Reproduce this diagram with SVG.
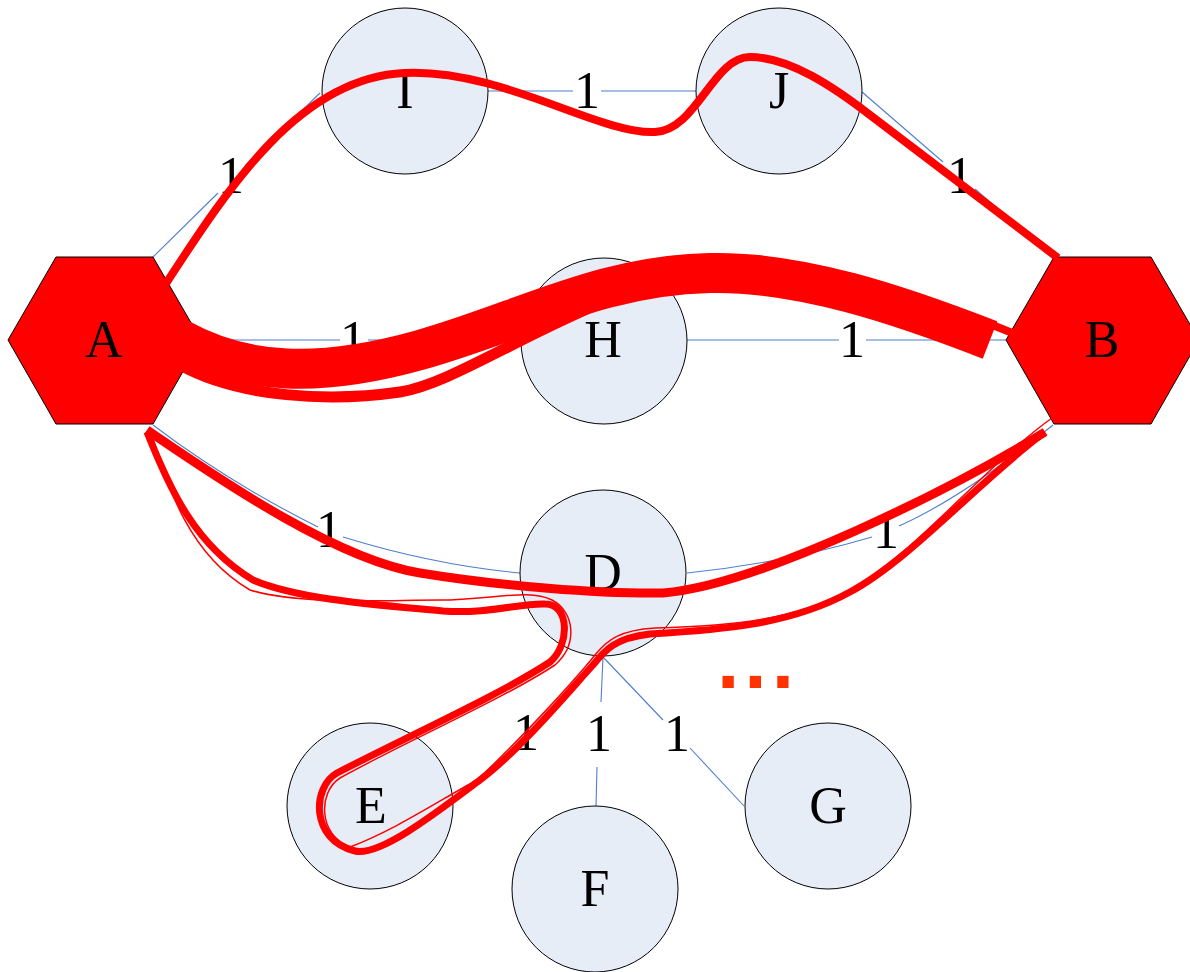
<svg xmlns="http://www.w3.org/2000/svg" width="1190" height="972" viewBox="0 0 1190 972">
<style>
.edge{fill:none;stroke:#4F7FCB;stroke-width:1.1}
.node{fill:#E6EDF7;stroke:#000;stroke-width:1}
.hex{fill:#FF0000;stroke:#000;stroke-width:1}
.lbl{font-family:"Liberation Serif","Times New Roman",serif;font-size:52px;text-anchor:middle;fill:#000}
.flow{fill:none;stroke:#FF0000;stroke-linecap:butt;stroke-linejoin:round}
.dots{font-family:"DejaVu Sans",sans-serif;font-weight:bold;font-size:64px;letter-spacing:3px;fill:#FF3300}
</style>
<rect width="1190" height="972" fill="#FFFFFF"/>
<g id="connectors">
  <path class="edge" d="M153,257 L218,193 M245,166 L320,93"/>
  <path class="edge" d="M488,91 L573,91 M601,91 L696,91"/>
  <path class="edge" d="M862,92 L943,162 M975,189 L1054,257"/>
  <path class="edge" d="M200,340 L340,340 M368,340 L521,340"/>
  <path class="edge" d="M687,340 L839,340 M866,340 L1006,340"/>
  <path class="edge" d="M153,425 Q228,482 318,527 M343,537 Q434,565 520,573"/>
  <path class="edge" d="M687,573 Q784,563 872,537 M899,526 Q962,498 1053,425"/>
  <path class="edge" d="M603,657 L539,722 M512,750 L494,768"/>
  <path class="edge" d="M603,657 L601,702 M597,767 L596,806"/>
  <path class="edge" d="M603,657 L663,720 M690,748 L744,806"/>
  <g id="edge-labels">
    <text class="lbl" x="231" y="193">1</text>
    <text class="lbl" x="587" y="108">1</text>
    <text class="lbl" x="960" y="193">1</text>
    <text class="lbl" x="353" y="357">1</text>
    <text class="lbl" x="852" y="357">1</text>
    <text class="lbl" x="329" y="547">1</text>
    <text class="lbl" x="886" y="548">1</text>
    <text class="lbl" x="526" y="750">1</text>
    <text class="lbl" x="599" y="751">1</text>
    <text class="lbl" x="677" y="751">1</text>
  </g>
</g>
<g id="node-A"><polygon class="hex" points="8,340 56,257 153,257 201,340 153,424 56,424"/><text class="lbl" x="104" y="357">A</text></g>
<g id="node-B"><polygon class="hex" points="1006,340 1054,257 1151,257 1199,340 1151,424 1054,424"/><text class="lbl" x="1102" y="357">B</text></g>
<g id="node-I"><circle class="node" cx="405" cy="91" r="83"/><text class="lbl" x="405" y="108">I</text></g>
<g id="node-J"><circle class="node" cx="779" cy="91" r="83"/><text class="lbl" x="779" y="108">J</text></g>
<g id="node-H"><circle class="node" cx="604" cy="341" r="83"/><text class="lbl" x="603" y="357">H</text></g>
<g id="node-D"><circle class="node" cx="603" cy="573" r="83"/><text class="lbl" x="603" y="590">D</text></g>
<g id="node-E"><circle class="node" cx="370" cy="806" r="83"/><text class="lbl" x="371" y="823">E</text></g>
<g id="node-F"><circle class="node" cx="595" cy="889" r="83"/><text class="lbl" x="595" y="906">F</text></g>
<g id="node-G"><circle class="node" cx="828" cy="806" r="83"/><text class="lbl" x="828" y="823">G</text></g>
<g id="flows">
  <path class="flow" stroke-width="8" d="M165,285 C230,185 300,78 404,73 C500,68 600,135 655,132 C697,130 713,57 750,57 C790,57 835,88 870,115 L1058,258"/>
  <path class="flow" stroke-width="11" d="M180,365 C240,398 330,402 400,392 C450,384 520,335 620,295"/>
  <path class="flow" stroke-width="40" d="M180,339 C245,375 320,378 420,350 C520,322 600,275 710,273 C800,271 900,305 990,340"/>
  <path class="flow" stroke-width="8" d="M990,324 L1020,336"/>
  <path class="flow" stroke-width="9" d="M147,430 C230,487 340,560 420,573 C500,586 600,594 663,593 C760,585 950,490 1045,432"/>
  <path class="flow" stroke-width="7" d="M147,432 C170,490 195,545 253,580 C300,600 380,605 443,611 C490,614 520,603 545,604 C570,604 570,645 550,662 C500,695 400,740 337,773 C312,787 310,840 355,851 C380,857 440,810 480,780 C520,750 570,690 593,665 C605,650 615,638 650,634 C720,630 790,625 850,592 C910,560 980,480 1045,432"/>
  <path class="flow" stroke-width="1.5" d="M150,428 C168,490 190,555 250,590 C300,605 380,600 440,600 C490,600 530,588 552,600 C575,612 578,645 555,665 C505,698 405,742 340,778 C318,792 318,835 350,847 C395,830 440,800 477,780 C520,740 575,680 595,655 C607,640 620,630 655,628 C730,626 800,620 855,588 C915,552 990,462 1052,418"/>
</g>
<g id="ellipsis"><text class="dots" x="716" y="688">...</text></g>
</svg>
